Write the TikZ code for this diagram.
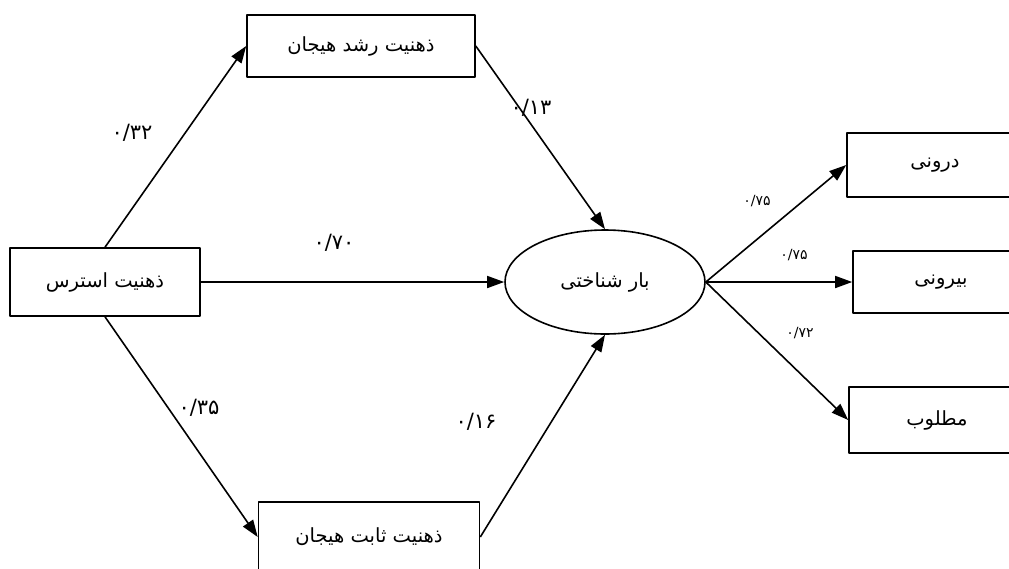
\documentclass[tikz,border=0pt]{standalone}
\usepackage{fontspec}
\usetikzlibrary{shapes.geometric,arrows.meta}
\newfontfamily\farsi[Script=Arabic]{DejaVu Sans}
\TeXXeTstate=1

\begin{document}
\begin{tikzpicture}[x=1pt, y=-1pt, line join=round,
  box/.style={draw, line width=1.6pt, minimum width=#1, minimum height=62pt,
    inner sep=0pt, font=\farsi\fontsize{19.5}{22}\selectfont},
  latent/.style={draw, ellipse, line width=1.6pt, minimum width=200pt,
    minimum height=104pt, inner sep=0pt, font=\farsi\fontsize{19.5}{22}\selectfont},
  path/.style={line width=1.6pt, -{Triangle[length=17pt,width=12pt]}},
  coef/.style={inner sep=0pt, font=\farsi\fontsize{21}{24}\selectfont},
  coefsmall/.style={inner sep=0pt, font=\farsi\fontsize{14}{16}\selectfont}]
  \useasboundingbox (0,0) rectangle (1009,568);

  % Mindsets (left and middle column)
  \node[box=228pt] (rshd) at (361,46) {\beginR ذهنیت رشد هیجان\endR};
  \node[box=190pt, minimum height=68pt] (stress) at (105,282) {\beginR ذهنیت استرس\endR};
  \node[box=221pt, minimum height=70pt] (sabet) at (369,537) {\beginR ذهنیت ثابت هیجان\endR};

  % Cognitive load
  \node[latent] (bar) at (605,282) {\beginR بار شناختی\endR};

  % Indicators (right column)
  \node[box=176pt, minimum height=64pt] (daruni) at (935,165) {\beginR درونی\endR};
  \node[box=176pt] (biruni) at (941,282) {\beginR بیرونی\endR};
  \node[box=176pt, minimum height=66pt] (matlub) at (937,420) {\beginR مطلوب\endR};

  % Paths
  \draw[path] (stress.north) -- (rshd.west);
  \draw[path] (stress.east) -- (bar.west);
  \draw[path] (stress.south) -- (sabet.west);
  \draw[path] (rshd.east) -- (bar.north);
  \draw[path] (sabet.east) -- (bar.south);
  \draw[path] (bar.east) -- (daruni.west);
  \draw[path] (bar.east) -- (biruni.west);
  \draw[path] (bar.east) -- (matlub.west);

  % Coefficients
  \node[coef] (c32) at (132,133) {۰/۳۲};
  \node[coef] (c70) at (334,243) {۰/۷۰};
  \node[coef] (c13) at (531,108) {۰/۱۳};
  \node[coef] (c35) at (199,408) {۰/۳۵};
  \node[coef] (c16) at (476,422) {۰/۱۶};
  \node[coefsmall] (c75a) at (757,201) {۰/۷۵};
  \node[coefsmall] (c75b) at (794,255) {۰/۷۵};
  \node[coefsmall] (c72) at (800,333) {۰/۷۲};
\end{tikzpicture}
\end{document}
